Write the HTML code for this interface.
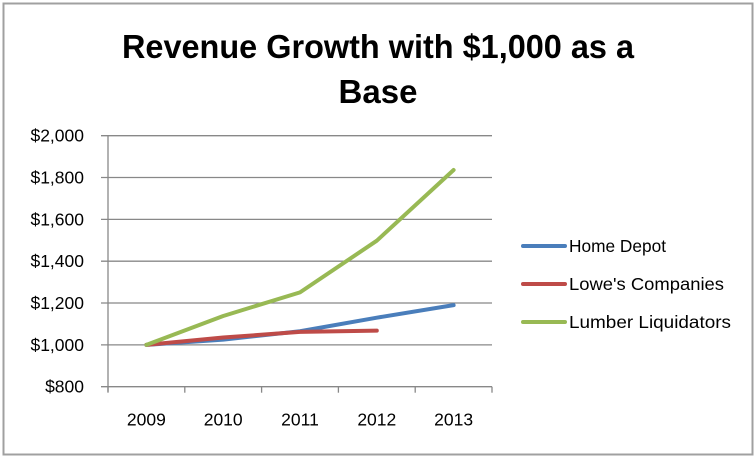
<!DOCTYPE html>
<html><head><meta charset="utf-8"><style>
html,body{margin:0;padding:0;background:#fff;}
svg{display:block;font-family:"Liberation Sans",sans-serif;}
</style></head><body>
<svg id="chart" width="756" height="458">
<rect x="3.5" y="3.5" width="749" height="451" fill="#fff" stroke="#a0a0a0" stroke-width="2"/>
<text x="378" y="58" text-anchor="middle" font-size="33" font-weight="bold" textLength="512" lengthAdjust="spacingAndGlyphs">Revenue Growth with $1,000 as a</text>
<text x="378" y="103" text-anchor="middle" font-size="33" font-weight="bold">Base</text>
<g id="grid"></g><g id="axes"></g><g id="series"></g>
<g>
<line x1="523" y1="246" x2="565" y2="246" stroke="#4a7ebb" stroke-width="4" stroke-linecap="round"/>
<text x="569" y="252" font-size="17.5" textLength="97" lengthAdjust="spacingAndGlyphs">Home Depot</text>
<line x1="523" y1="284" x2="565" y2="284" stroke="#be4b48" stroke-width="4" stroke-linecap="round"/>
<text x="569" y="290" font-size="17.5" textLength="155" lengthAdjust="spacingAndGlyphs">Lowe's Companies</text>
<line x1="523" y1="322" x2="565" y2="322" stroke="#98b954" stroke-width="4" stroke-linecap="round"/>
<text x="569" y="328" font-size="17.5" textLength="162" lengthAdjust="spacingAndGlyphs">Lumber Liquidators</text>
</g>
</svg>
<script>
const categories = ["2009","2010","2011","2012","2013"];
const homeDepot = [1000, 1025, 1065, 1130, 1190];
const lowes = [1000, 1035, 1062, 1068];
const lumber = [1000, 1138, 1251, 1498, 1836];
const yTicks = [800, 1000, 1200, 1400, 1600, 1800, 2000];
const yTickLabels = ["$800","$1,000","$1,200","$1,400","$1,600","$1,800","$2,000"];
const NS="http://www.w3.org/2000/svg";
const L=108,R=492,T=135.7,B=386.7,yMin=800,yMax=2000;
const band=(R-L)/categories.length;
const x=i=>L+band*(i+0.5);
const y=v=>B-(v-yMin)/(yMax-yMin)*(B-T);
function mk(tag,attrs,parent){const e=document.createElementNS(NS,tag);for(const k in attrs)e.setAttribute(k,attrs[k]);parent.appendChild(e);return e;}
const grid=document.getElementById('grid'),axes=document.getElementById('axes'),ser=document.getElementById('series');
yTicks.forEach((v,i)=>{
  const g=mk('line',{x1:101,x2:R,y1:y(v),y2:y(v),stroke:'#888','stroke-width':1.3},grid);
  
  
  const t=mk('text',{x:84,y:y(v)+6,'text-anchor':'end','font-size':17.5},axes);
  t.textContent=yTickLabels[i];
  
  
});
const ya=mk('line',{x1:L,x2:L,y1:T,y2:B+5,stroke:'#888','stroke-width':1.3},axes);


for(let i=0;i<=categories.length;i++){
  const tk=mk('line',{x1:L+band*i,x2:L+band*i,y1:B,y2:B+6,stroke:'#888','stroke-width':1.3},axes);
  
  
}
categories.forEach((c,i)=>{
  const t=mk('text',{x:x(i),y:B+39,'text-anchor':'middle','font-size':17.5},axes);
  t.textContent=c;
  
  
});
function line(vals,color,name){
  const p=mk('polyline',{points:vals.map((v,i)=>x(i)+','+y(v)).join(' '),fill:'none',stroke:color,'stroke-width':4,'stroke-linejoin':'round','stroke-linecap':'round'},ser);
  
  
}
line(homeDepot,'#4a7ebb','series-home-depot');
line(lowes,'#be4b48','series-lowes');
line(lumber,'#98b954','series-lumber-liquidators');
</script>
</body></html>
